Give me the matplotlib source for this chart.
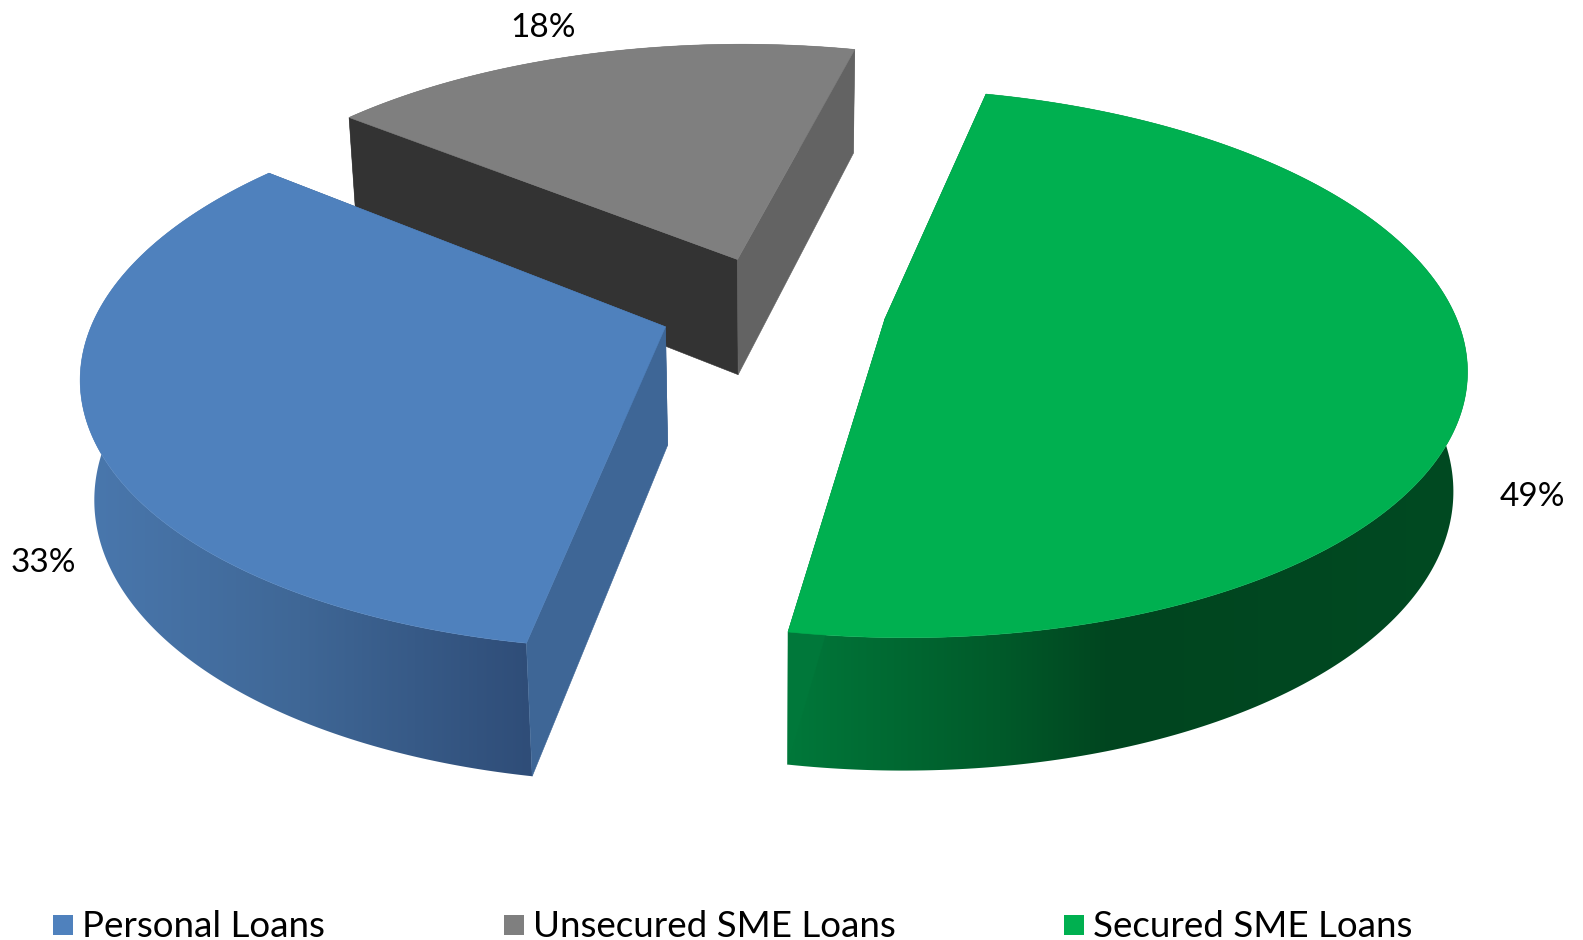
import numpy as np
import matplotlib
matplotlib.use("Agg")
import matplotlib.pyplot as plt
from matplotlib.colors import to_rgb
from matplotlib.patches import Polygon, Rectangle

# Loan mix, in percent
labels = ["Personal Loans", "Unsecured SME Loans", "Secured SME Loans"]
values = [33, 18, 49]

top_colors = ["#4f81bd", "#7f7f7f", "#00b050"]
# rim shading runs left to right across the canvas: (pixel x, colour)
rim_stops = [
    [(80, "#4a78ae"), (300, "#3f6796"), (530, "#2f4d78")],
    [(0, "#555555"), (1583, "#555555")],
    [(787, "#00783a"), (1000, "#005a2a"), (1110, "#00451f"), (1480, "#004a22")],
]
# walls of the two cuts: leading edge, trailing edge
wall_colors = [("#3e6696", "#3e6696"), ("#333333", "#636363"), ("#00783a", "#00783a")]

start_angle = 190.0   # degrees clockwise from the far side of the pie
explode = 0.2

# camera
cx, cy = 773.0, 308.0
rad_x, rad_y = 568.0, 264.0
persp = 0.16
depth_persp = 0.02
thickness = 120.0


def project(u, v, bottom=False):
    """Disc coordinates (radius 1) to canvas pixels."""
    u, v = np.asarray(u, float), np.asarray(v, float)
    drop = 1.0 if bottom else 0.0
    w = 1 + persp * v + depth_persp * drop
    return cx + rad_x * u / w, cy - (rad_y * v - thickness * drop) / w


def rim_gradient(stops):
    """One-row RGB image across the full canvas width."""
    xs = np.arange(1583)
    sx = [s[0] for s in stops]
    rgb = np.array([to_rgb(s[1]) for s in stops])
    return np.stack([np.interp(xs, sx, rgb[:, c]) for c in range(3)], axis=1)[np.newaxis, :, :]


fig = plt.figure(figsize=(15.83, 9.40), dpi=100)
ax = fig.add_axes([0, 0, 1, 1])

# slice angles from the values
total = sum(values)
spans = [v / total * 360 for v in values]
starts = start_angle + np.concatenate([[0], np.cumsum(spans)[:-1]])

# far slice first, so the nearer ones cover it
for layer, i in enumerate([1, 0, 2]):
    a0, a1 = starts[i], starts[i] + spans[i]
    mid = np.radians((a0 + a1) / 2)
    ou, ov = explode * np.sin(mid), explode * np.cos(mid)
    t = np.radians(np.linspace(a0, a1, 240))
    u = ou + np.sin(t)
    v = ov + np.cos(t)

    # outer rim, a horizontal gradient clipped to the wall outline
    xt, yt = project(u, v)
    xb, yb = project(u, v, bottom=True)
    rim = Polygon(np.column_stack([np.r_[xt, xb[::-1]], np.r_[yt, yb[::-1]]]),
                  closed=True, fc="none", ec="none", zorder=layer + 1)
    ax.add_patch(rim)
    img = ax.imshow(rim_gradient(rim_stops[i]), extent=(0, 1583, 940, 0), aspect="auto",
                    interpolation="bilinear", zorder=layer + 1)
    img.set_clip_path(rim)

    # cut walls, apex to rim at both ends
    axt, ayt = project(ou, ov)
    axb, ayb = project(ou, ov, bottom=True)
    for end, col in zip([0, -1], wall_colors[i]):
        ax.add_patch(Polygon([(axt, ayt), (xt[end], yt[end]), (xb[end], yb[end]), (axb, ayb)],
                             closed=True, fc=col, ec=col, lw=0.4, zorder=layer + 1.1))

    # top face
    ax.add_patch(Polygon(np.column_stack([np.r_[axt, xt], np.r_[ayt, yt]]),
                         closed=True, fc=top_colors[i], ec=top_colors[i], lw=0.4, zorder=layer + 1.2))

ax.set_xlim(0, 1583)
ax.set_ylim(940, 0)
ax.axis("off")

# percent labels
font = ["Lato", "DejaVu Sans"]
label_pos = [(43, 563), (543, 28), (1532, 497)]
for val, (lx, ly) in zip(values, label_pos):
    ax.text(lx, ly, f"{val}%", fontsize=24, family=font, ha="center", va="center", color="black", zorder=10)

# legend row
legend_x = [53, 504, 1064]
for name, col, lx in zip(labels, top_colors, legend_x):
    ax.add_patch(Rectangle((lx, 915), 20, 20, fc=col, ec="none", zorder=10))
    ax.text(lx + 29, 937, name, fontsize=26.5, family=font, ha="left", va="baseline", color="black", zorder=10)

fig.savefig("out.png", dpi=100)
